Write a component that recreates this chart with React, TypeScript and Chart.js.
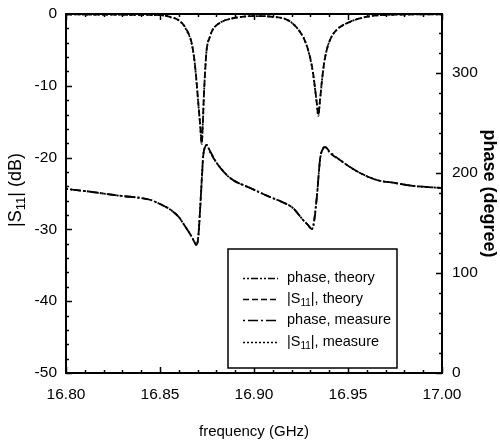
import React, { useEffect, useRef } from 'react';
import { Chart, registerables } from 'chart.js';

Chart.register(...registerables);

// |S11| (dB) versus frequency (GHz)
const freqS11 = [
  16.8, 16.82, 16.84, 16.85, 16.8553, 16.8606, 16.8642, 16.8669, 16.8684, 16.8695,
  16.8705, 16.8713, 16.8722, 16.8728, 16.8734, 16.8741, 16.8748, 16.8765, 16.878, 16.8815,
  16.8856, 16.892, 16.898, 16.905, 16.9105, 16.9156, 16.92, 16.9245, 16.9275, 16.9298,
  16.9313, 16.9324, 16.9334, 16.9342, 16.9351, 16.936, 16.9372, 16.9387, 16.941, 16.944,
  16.951, 16.958, 16.965, 16.975, 16.985, 17.0,
];
const s11Theory = [
  -0.05, -0.08, -0.12, -0.15, -0.4, -1.0, -2.2, -4.1, -6.6, -9.6,
  -12.8, -15.2, -18.0, -15.0, -11.0, -7.6, -5.0, -3.2, -2.2, -1.3,
  -0.8, -0.45, -0.3, -0.3, -0.4, -0.6, -1.2, -2.5, -4.0, -6.0,
  -8.0, -10.2, -12.4, -14.1, -12.0, -9.6, -7.0, -5.0, -3.3, -2.2,
  -1.1, -0.5, -0.2, -0.1, -0.06, -0.05,
];
const s11Measure = [
  -0.06, -0.08, -0.13, -0.16, -0.42, -1.0, -2.3, -4.2, -6.7, -9.7,
  -12.9, -15.3, -18.1, -15.1, -11.1, -7.5, -5.0, -3.2, -2.2, -1.3,
  -0.8, -0.45, -0.3, -0.3, -0.42, -0.6, -1.2, -2.5, -4.0, -6.1,
  -8.1, -10.3, -12.5, -14.2, -12.1, -9.7, -7.0, -5.0, -3.3, -2.2,
  -1.1, -0.5, -0.2, -0.1, -0.06, -0.05,
];

// phase (degree) versus frequency (GHz)
const freqPhase = [
  16.8, 16.81, 16.818, 16.83, 16.84, 16.845, 16.85, 16.855, 16.86, 16.8622,
  16.865, 16.8669, 16.8683, 16.8691, 16.8697, 16.8704, 16.8713, 16.8722, 16.873, 16.874,
  16.8748, 16.8766, 16.8802, 16.885, 16.8888, 16.898, 16.9085, 16.915, 16.9207, 16.9261,
  16.9287, 16.93, 16.9307, 16.9316, 16.9334, 16.9352, 16.9369, 16.9378, 16.9404, 16.9457,
  16.951, 16.9564, 16.9653, 16.975, 16.985, 17.0,
];
const phaseTheory = [
  184, 182, 180, 177, 175, 173, 169, 164, 156, 150,
  142, 136, 131, 129, 129, 137, 163, 193, 218, 226,
  228, 221, 210, 199, 193, 185, 176, 171, 165, 153,
  148, 145, 144, 148, 176, 214, 225, 226, 220, 213,
  206, 200, 193, 190, 187, 185,
];
const phaseMeasure = [
  184, 182, 180, 177, 175, 173, 169, 164, 156, 150,
  142, 136, 131, 128, 129, 136, 162, 192, 217, 226,
  228, 222, 210, 199, 193, 185, 176, 171, 165, 153,
  148, 145, 144, 147, 175, 215, 225, 226, 221, 213,
  206, 200, 193, 190, 187, 185,
];

const xTicks = [16.8, 16.85, 16.9, 16.95, 17.0];
const dbTicks = [-50, -40, -30, -20, -10, 0];
const phaseTicks = [0, 100, 200, 300];
const seriesLabels = ['phase, theory', '|S₁₁|, theory', 'phase, measure', '|S₁₁|, measure'];

const AXIS_FONT = "'Liberation Sans', Arial, sans-serif";
const LEGEND_FONT = "'Liberation Sans', Arial, sans-serif";

const SUB_MAP: Record<string, string> = {
  '₀': '0', '₁': '1', '₂': '2', '₃': '3', '₄': '4', '₅': '5', '₆': '6', '₇': '7', '₈': '8', '₉': '9',
};

// draws a string, turning unicode subscript digits into small lowered digits
function drawRich(ctx: CanvasRenderingContext2D, text: string, x: number, y: number, size: number, family: string, weight = 'normal') {
  const parts = text.split(/([₀-₉]+)/);
  let cx = x;
  for (const p of parts) {
    if (!p) continue;
    const isSub = /[₀-₉]/.test(p);
    const t = isSub ? p.split('').map((c) => SUB_MAP[c]).join('') : p;
    ctx.font = `${weight} ${isSub ? Math.round(size * 0.7) : size}px ${family}`;
    ctx.fillText(t, cx, isSub ? y + size * 0.3 : y);
    cx += ctx.measureText(t).width;
  }
  return cx - x;
}

function richWidth(ctx: CanvasRenderingContext2D, text: string, size: number, family: string, weight = 'normal') {
  const parts = text.split(/([₀-₉]+)/);
  let w = 0;
  for (const p of parts) {
    if (!p) continue;
    const isSub = /[₀-₉]/.test(p);
    const t = isSub ? p.split('').map((c) => SUB_MAP[c]).join('') : p;
    ctx.font = `${weight} ${isSub ? Math.round(size * 0.7) : size}px ${family}`;
    w += ctx.measureText(t).width;
  }
  return w;
}

const framePlugin = {
  id: 'frameTicks',
  afterDatasetsDraw(chart: any) {
    const { ctx, chartArea: a, scales } = chart;
    ctx.save();
    ctx.strokeStyle = '#000';
    ctx.lineWidth = 2;
    ctx.strokeRect(a.left, a.top, a.right - a.left, a.bottom - a.top);
    ctx.lineWidth = 1.5;
    ctx.beginPath();
    for (let i = 0; i <= 20; i++) {
      const v = 16.8 + i * 0.01;
      const px = Math.round(scales.x.getPixelForValue(v)) + 0.5;
      const L = i % 5 === 0 ? 6 : 3;
      ctx.moveTo(px, a.bottom);
      ctx.lineTo(px, a.bottom - L);
      ctx.moveTo(px, a.top);
      ctx.lineTo(px, a.top + L);
    }
    for (let i = 0; i <= 25; i++) {
      const v = -50 + i * 2;
      const py = Math.round(scales.y.getPixelForValue(v)) + 0.5;
      const L = i % 5 === 0 ? 6 : 3;
      ctx.moveTo(a.left, py);
      ctx.lineTo(a.left + L, py);
    }
    for (let i = 0; i <= 17; i++) {
      const v = i * 20;
      const py = Math.round(scales.y1.getPixelForValue(v)) + 0.5;
      const L = i % 5 === 0 ? 6 : 3;
      ctx.moveTo(a.right, py);
      ctx.lineTo(a.right - L, py);
    }
    ctx.stroke();
    ctx.restore();
  },
};

const legendPlugin = {
  id: 'boxLegend',
  afterDatasetsDraw(chart: any, _args: any, opts: any) {
    const { ctx } = chart;
    const { box, rows, lineX0, lineX1, textX, size } = opts;
    ctx.save();
    ctx.fillStyle = '#fff';
    ctx.fillRect(box.x, box.y, box.w, box.h);
    ctx.strokeStyle = '#000';
    ctx.lineWidth = 1.5;
    ctx.strokeRect(box.x, box.y, box.w, box.h);
    chart.data.datasets.forEach((ds: any, i: number) => {
      const y = rows[i];
      ctx.beginPath();
      ctx.setLineDash(ds.borderDash || []);
      ctx.lineWidth = 1.5;
      ctx.moveTo(lineX0, y + 0.5);
      ctx.lineTo(lineX1, y + 0.5);
      ctx.stroke();
      ctx.setLineDash([]);
      ctx.fillStyle = '#000';
      ctx.textBaseline = 'middle';
      ctx.textAlign = 'left';
      drawRich(ctx, ds.label, textX, y, size, LEGEND_FONT);
    });
    ctx.restore();
  },
};

const leftTitlePlugin = {
  id: 'leftTitle',
  afterDraw(chart: any, _args: any, opts: any) {
    const { ctx } = chart;
    ctx.save();
    ctx.fillStyle = '#000';
    ctx.textBaseline = 'middle';
    ctx.textAlign = 'left';
    ctx.translate(opts.x, opts.y);
    ctx.rotate(-Math.PI / 2);
    const w = richWidth(ctx, opts.text, opts.size, AXIS_FONT);
    drawRich(ctx, opts.text, -w / 2, 0, opts.size, AXIS_FONT);
    ctx.restore();
  },
};

export default function App() {
  const ref = useRef<HTMLCanvasElement | null>(null);

  useEffect(() => {
    if (!ref.current) return;
    const pts = (xs: number[], ys: number[]) => xs.map((x, i) => ({ x, y: ys[i] }));
    const common = {
      borderColor: '#000',
      backgroundColor: '#000',
      borderWidth: 1.8,
      pointRadius: 0,
      fill: false,
      cubicInterpolationMode: 'monotone' as const,
    };
    const tickFont = { family: AXIS_FONT, size: 15.5 };
    const noPadY = (w: number) => (s: any) => { s.width = w; s.paddingTop = 0; s.paddingBottom = 0; };
    const chart = new Chart(ref.current, {
      type: 'line',
      data: {
        datasets: [
          { ...common, label: seriesLabels[0], data: pts(freqPhase, phaseTheory), yAxisID: 'y1', borderDash: [2, 2, 2, 2, 7, 2] },
          { ...common, label: seriesLabels[1], data: pts(freqS11, s11Theory), yAxisID: 'y', borderDash: [6, 3] },
          { ...common, label: seriesLabels[2], data: pts(freqPhase, phaseMeasure), yAxisID: 'y1', borderDash: [2, 3, 10, 3] },
          { ...common, label: seriesLabels[3], data: pts(freqS11, s11Measure), yAxisID: 'y', borderDash: [2, 2] },
        ],
      },
      options: {
        responsive: false,
        animation: false,
        devicePixelRatio: 1,
        layout: { padding: { top: 14, left: 0, right: 0, bottom: 0 } },
        plugins: {
          legend: { display: false },
          tooltip: { enabled: false },
          boxLegend: {
            box: { x: 228, y: 249, w: 169, h: 119 },
            rows: [278, 299, 320, 342],
            lineX0: 243,
            lineX1: 278,
            textX: 287,
            size: 14.5,
          },
          leftTitle: { x: 16, y: 190, text: '|S₁₁| (dB)', size: 18 },
        } as any,
        scales: {
          x: {
            type: 'linear',
            min: 16.8,
            max: 17.0,
            afterBuildTicks: (s: any) => { s.ticks = xTicks.map((v) => ({ value: v })); },
            afterFit: (s: any) => { s.height = 68; s.paddingLeft = 0; s.paddingRight = 0; },
            ticks: {
              callback: (v: any) => Number(v).toFixed(2),
              font: tickFont,
              color: '#000',
              padding: 12,
              maxRotation: 0,
              autoSkip: false,
            },
            grid: { display: false, drawTicks: false },
            border: { display: false },
            title: { display: true, text: 'frequency (GHz)', font: { family: AXIS_FONT, size: 15 }, color: '#000', padding: { top: 0, bottom: 0 } },
          },
          y: {
            type: 'linear',
            position: 'left',
            min: -50,
            max: 0,
            afterBuildTicks: (s: any) => { s.ticks = dbTicks.map((v) => ({ value: v })); },
            afterFit: noPadY(66),
            ticks: { font: tickFont, color: '#000', padding: 9 },
            grid: { display: false, drawTicks: false },
            border: { display: false },
          },
          y1: {
            type: 'linear',
            position: 'right',
            min: 0,
            max: 359,
            afterBuildTicks: (s: any) => { s.ticks = phaseTicks.map((v) => ({ value: v })); },
            afterFit: noPadY(58),
            ticks: { font: tickFont, color: '#000', padding: 10 },
            grid: { display: false, drawTicks: false },
            border: { display: false },
            title: { display: true, text: 'phase (degree)', font: { family: AXIS_FONT, size: 18, weight: 'bold' }, color: '#000', padding: { top: 0, bottom: 0 } },
          },
        },
      },
      plugins: [framePlugin, legendPlugin, leftTitlePlugin],
    } as any);
    return () => chart.destroy();
  }, []);

  return (
    <div style={{ position: 'absolute', left: 0, top: 0, width: 500, height: 441, background: '#fff' }}>
      <canvas ref={ref} width={500} height={441} />
    </div>
  );
}
